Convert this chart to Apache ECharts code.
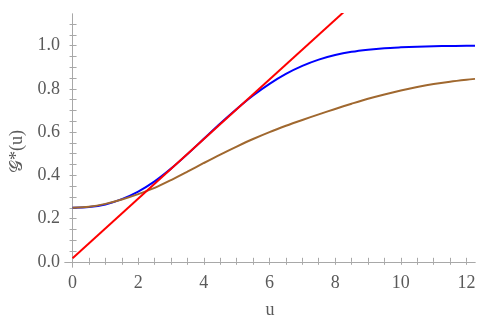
<!DOCTYPE html>
<html>
<head>
<meta charset="utf-8">
<script src="https://cdn.jsdelivr.net/npm/echarts@6/dist/echarts.min.js"></script>
<style>
html,body{margin:0;padding:0;background:#fff;}
#c{width:490px;height:322px;}
</style>
</head>
<body>
<div id="c"></div>
<script>
var uGrid = [0, 0.5, 1, 1.5, 2, 2.5, 3, 3.5, 4, 4.5, 5, 5.5, 6, 6.5, 7, 7.5, 8, 8.5, 9, 9.5, 10, 10.5, 11, 11.5, 12, 12.26];
var blueVals = [0.250, 0.253, 0.265, 0.290, 0.325, 0.372, 0.431, 0.498, 0.569, 0.640, 0.707, 0.769, 0.823, 0.869, 0.906, 0.935, 0.956, 0.971, 0.981, 0.988, 0.992, 0.995, 0.997, 0.998, 0.999, 0.999];
var brownVals = [0.250, 0.255, 0.268, 0.288, 0.313, 0.342, 0.378, 0.417, 0.457, 0.496, 0.533, 0.568, 0.600, 0.629, 0.656, 0.682, 0.707, 0.731, 0.754, 0.774, 0.792, 0.808, 0.822, 0.833, 0.842, 0.846];
var redU = [0, 8.5];
var redVals = [0.016, 1.188];

var xLabelTicks = [0, 2, 4, 6, 8, 10, 12];
var xMinorTicks = [0, 0.5, 1, 1.5, 2, 2.5, 3, 3.5, 4, 4.5, 5, 5.5, 6, 6.5, 7, 7.5, 8, 8.5, 9, 9.5, 10, 10.5, 11, 11.5, 12];
var yLabelTicks = [0, 0.2, 0.4, 0.6, 0.8, 1.0];
var yMinorTicks = [0, 0.05, 0.1, 0.15, 0.2, 0.25, 0.3, 0.35, 0.4, 0.45, 0.5, 0.55, 0.6, 0.65, 0.7, 0.75, 0.8, 0.85, 0.9, 0.95, 1.0, 1.05, 1.1];

function pairs(xs, ys) { return xs.map(function (x, i) { return [x, ys[i]]; }); }

var frameColor = '#a8a8a8';
var labelColor = '#5a5a5a';
var fontFam = 'Liberation Serif';

var chart = echarts.init(document.getElementById('c'), null, {renderer: 'canvas'});
chart.setOption({
  animation: false,
  backgroundColor: '#ffffff',
  grid: {left: 65, right: 15, top: 14, bottom: 55, containLabel: false, outerBoundsMode: 'none'},
  xAxis: [{
    type: 'value', position: 'bottom', min: -0.23, max: 12.26,
    axisLine: {show: true, lineStyle: {color: frameColor, width: 1}},
    axisTick: {show: true, inside: true, length: 4, customValues: xMinorTicks, lineStyle: {color: frameColor}},
    axisLabel: {customValues: xLabelTicks, color: labelColor, fontFamily: fontFam, fontSize: 18, margin: 7},
    splitLine: {show: false},
    name: 'u', nameLocation: 'middle', nameGap: 34,
    nameTextStyle: {color: labelColor, fontFamily: fontFam, fontSize: 18}
  }, {
    type: 'value', position: 'top', min: -0.23, max: 12.26,
    axisLine: {show: true, lineStyle: {color: frameColor, width: 1}},
    axisTick: {show: true, inside: true, length: 3, customValues: xMinorTicks, lineStyle: {color: frameColor}},
    axisLabel: {show: false},
    splitLine: {show: false}
  }],
  yAxis: [{
    type: 'value', position: 'left', min: -0.024, max: 1.146,
    axisLine: {show: true, lineStyle: {color: frameColor, width: 1}},
    axisTick: {show: true, inside: true, length: 4, customValues: yMinorTicks, lineStyle: {color: frameColor}},
    axisLabel: {customValues: yLabelTicks, color: labelColor, fontFamily: fontFam, fontSize: 18, margin: 5,
      formatter: function (v) { return v.toFixed(1); }},
    splitLine: {show: false},
    name: '𝒢*(u)', nameLocation: 'middle', nameGap: 36, nameRotate: 90,
    nameTextStyle: {color: labelColor, fontFamily: fontFam, fontSize: 18, padding: [0, 22, 0, 0]}
  }, {
    type: 'value', position: 'right', min: -0.024, max: 1.146,
    axisLine: {show: true, lineStyle: {color: frameColor, width: 1}},
    axisTick: {show: true, inside: true, length: 3, customValues: yMinorTicks, lineStyle: {color: frameColor}},
    axisLabel: {show: false},
    splitLine: {show: false}
  }],
  series: [{
    type: 'line', name: 'blue', data: pairs(uGrid, blueVals), smooth: 0.3, showSymbol: false,
    lineStyle: {color: '#0000ff', width: 2}, z: 2
  }, {
    type: 'line', name: 'brown', data: pairs(uGrid, brownVals), smooth: 0.3, showSymbol: false,
    lineStyle: {color: '#a0682f', width: 2}, z: 3
  }, {
    type: 'line', name: 'red', data: pairs(redU, redVals), showSymbol: false, clip: true,
    lineStyle: {color: '#ff0000', width: 2}, z: 4
  }]
});
</script>
</body>
</html>
